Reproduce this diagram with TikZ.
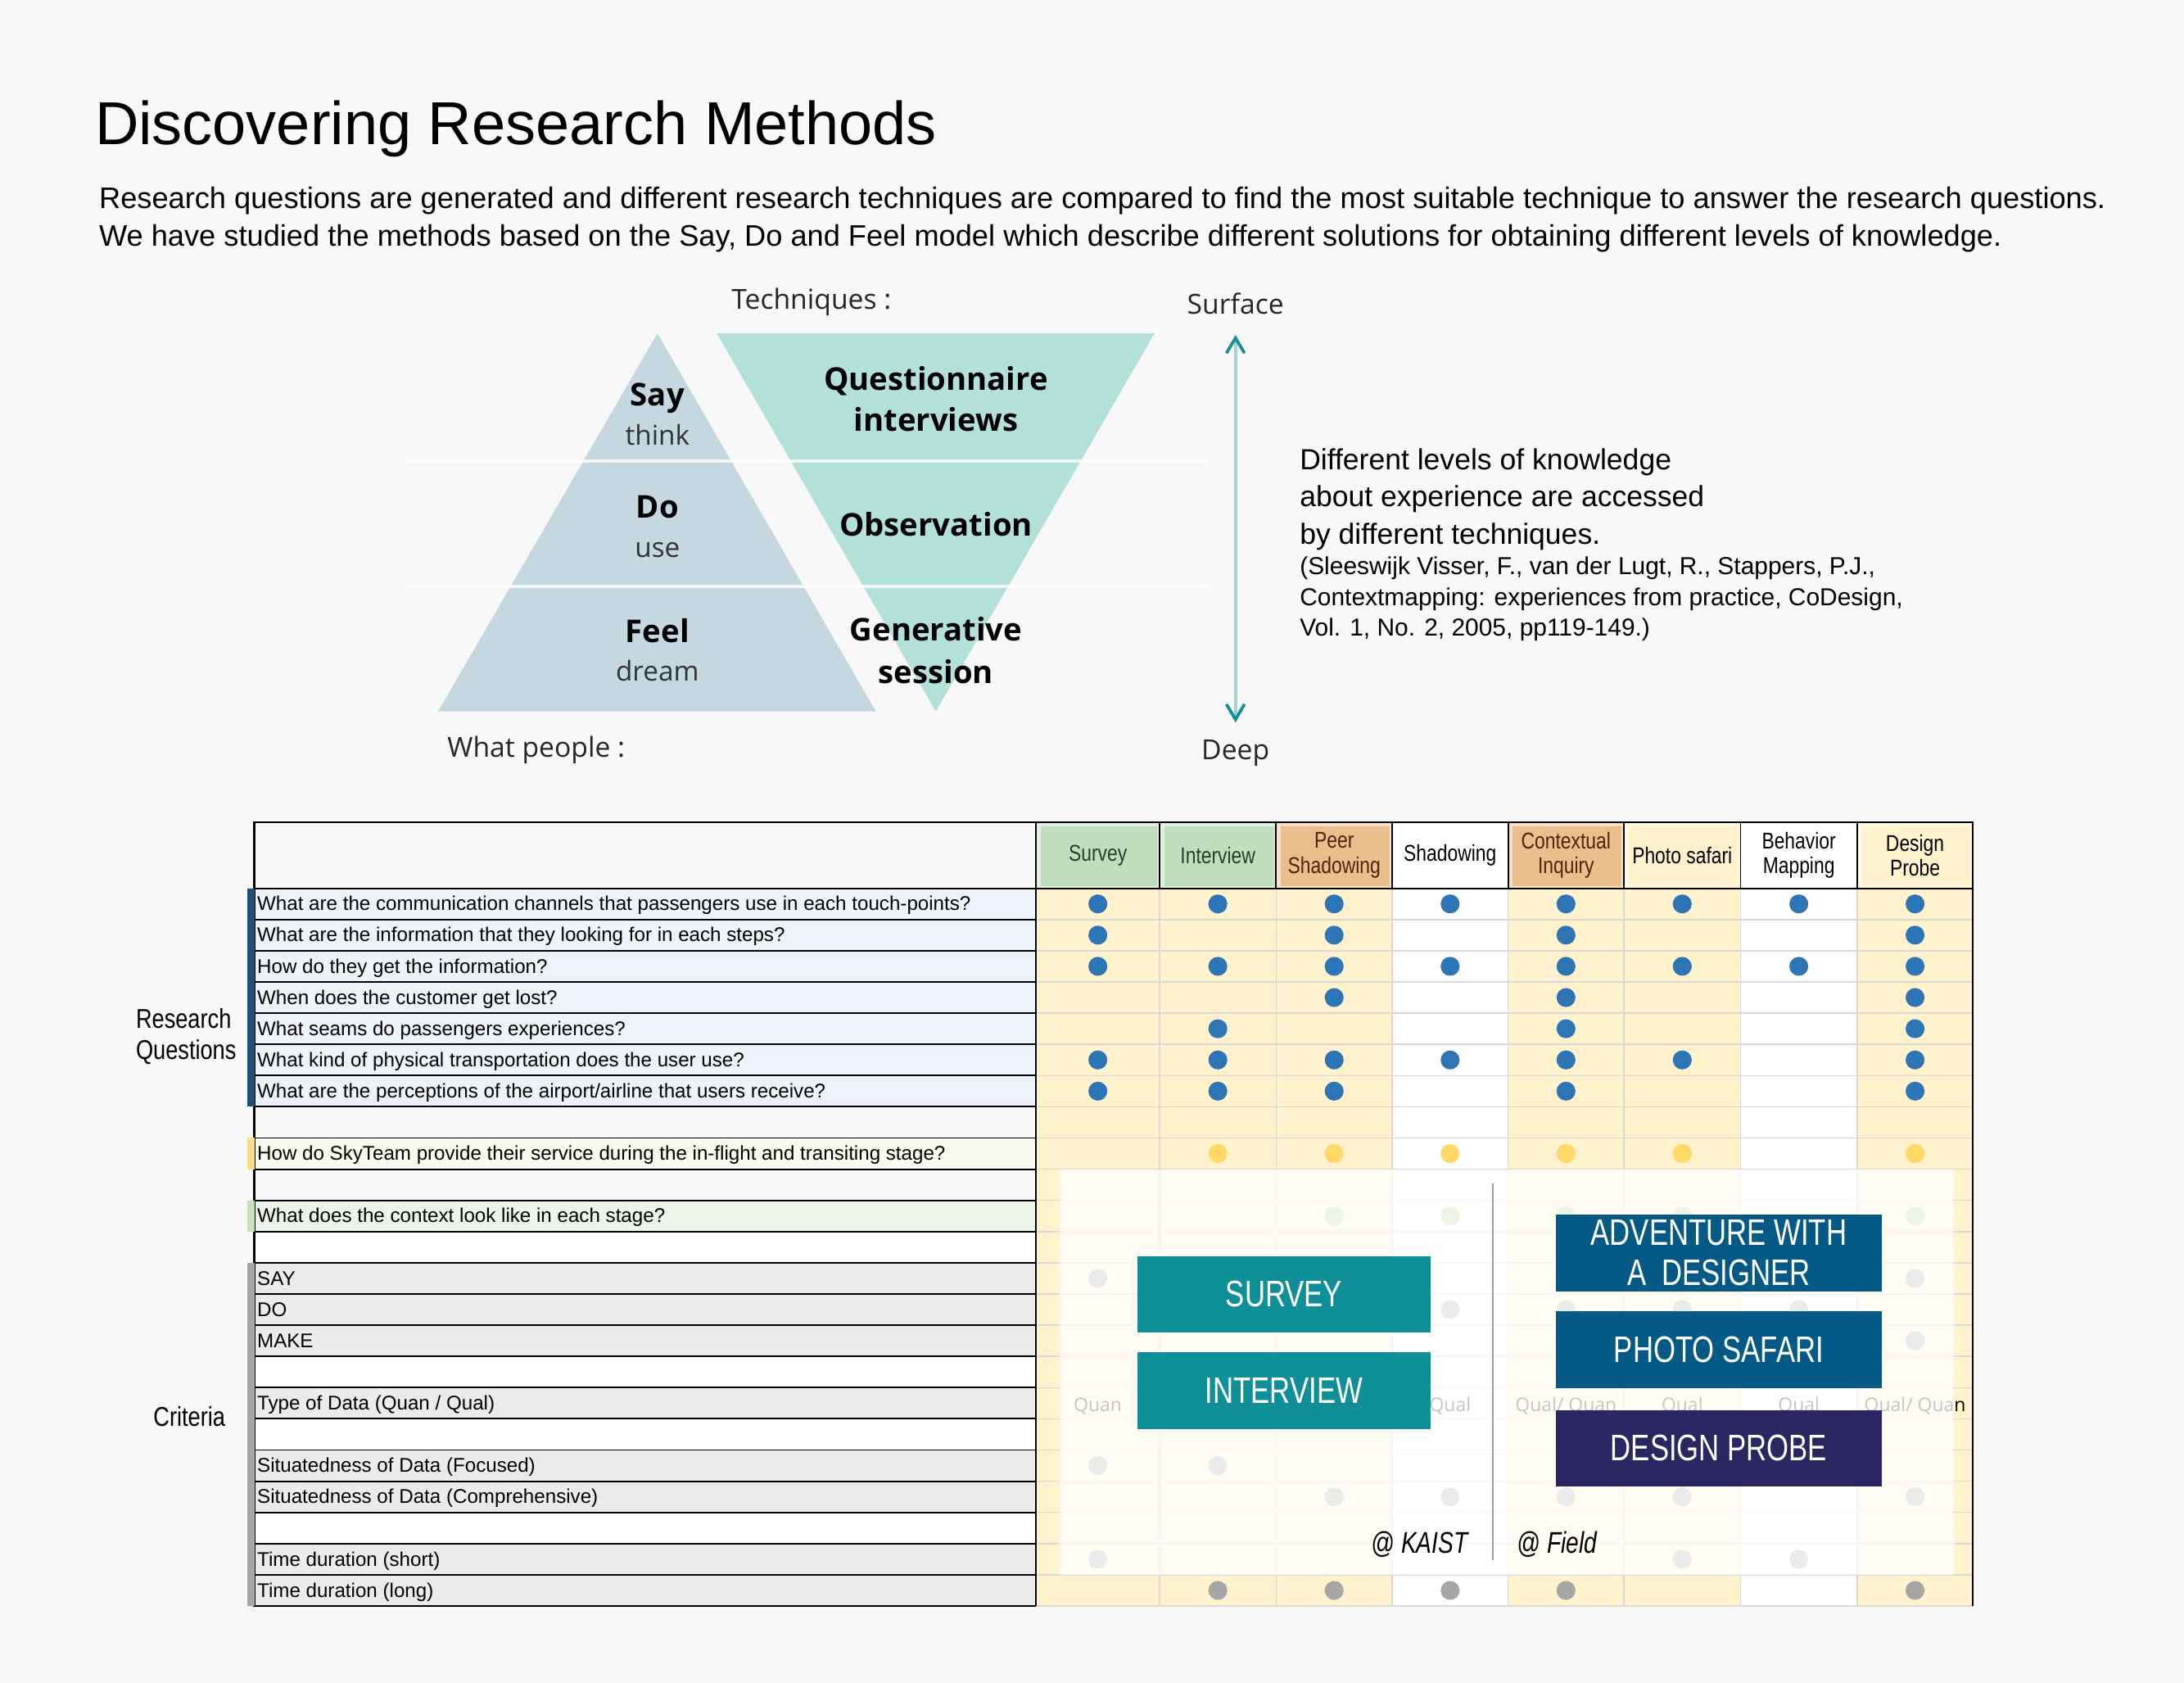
\documentclass[tikz,border=0pt]{standalone}
\usepackage{fontspec}
\setmainfont{Liberation Sans}
\newfontfamily\segoefont{Open Sans}
\newfontfamily\narrowfont[FakeStretch=0.82]{Liberation Sans}
\newfontfamily\boxfont[FakeStretch=0.77]{Liberation Sans}
\usetikzlibrary{positioning,arrows.meta}

\definecolor{paper}{RGB}{248,248,248}
\definecolor{saycol}{RGB}{197,216,224}
\definecolor{techcol}{RGB}{179,224,215}
\definecolor{arrowline}{RGB}{160,212,212}
\definecolor{arrowhead}{RGB}{22,145,145}
\definecolor{cream}{RGB}{255,242,204}
\definecolor{hdrgreen}{RGB}{190,222,188}
\definecolor{hdrorange}{RGB}{236,190,140}
\definecolor{greentext}{RGB}{36,66,40}
\definecolor{browntext}{RGB}{78,36,10}
\definecolor{qblue}{RGB}{239,243,249}
\definecolor{qgray}{RGB}{235,235,235}
\definecolor{qcream}{RGB}{250,249,240}
\definecolor{qgreen}{RGB}{237,243,232}
\definecolor{barblue}{RGB}{31,78,121}
\definecolor{baryellow}{RGB}{255,222,130}
\definecolor{bargreen}{RGB}{197,224,180}
\definecolor{bargray}{RGB}{166,166,166}
\definecolor{dotblue}{RGB}{46,117,182}
\definecolor{dotyellow}{RGB}{255,217,102}
\definecolor{dotgreen}{RGB}{169,209,142}
\definecolor{dotgray}{RGB}{166,166,166}
\definecolor{gridgray}{RGB}{217,217,217}
\definecolor{sepgray}{RGB}{160,160,160}
\definecolor{kaistteal}{RGB}{15,144,153}
\definecolor{fieldblue}{RGB}{4,90,133}
\definecolor{probenavy}{RGB}{43,38,97}

% column borders of the method table
\def\colb{{743.9,832.5,916.2,999.5,1082.7,1165.9,1249.6,1333.3,1416.5}}
\newcommand\colmid[1]{%
  \pgfmathsetmacro\colxa{\colb[#1-1]}%
  \pgfmathsetmacro\colxb{\colb[#1]}%
  \pgfmathsetmacro\dotx{(\colxa+\colxb)/2}}
\newcommand\dotrow[3]{\foreach \k in {#3}{%
  \colmid{\k}%
  \fill[#1] (\dotx,{637.7+(#2-0.5)*22.4}) circle (6.8);}}

\begin{document}
\begin{tikzpicture}[x=1pt,y=-1pt,
every node/.style={inner sep=0pt},
titletext/.style={anchor=base west,font=\fontsize{43.5}{50}\selectfont},
introtext/.style={anchor=base west,font=\fontsize{21.3}{24}\selectfont},
pyrbold/.style={anchor=base,font=\segoefont\bfseries\fontsize{22.5}{26}\selectfont},
pyrlight/.style={anchor=base,font=\segoefont\fontsize{19.6}{24}\selectfont,text=black!80},
sidetext/.style={anchor=base,font=\segoefont\fontsize{19.8}{24}\selectfont,text=black!85},
notetext/.style={anchor=base west,font=\fontsize{20.9}{24}\selectfont},
reftext/.style={anchor=base west,font=\fontsize{17.6}{21}\selectfont},
qtext/.style={anchor=base west,font=\fontsize{14.2}{16}\selectfont},
htext/.style={align=center,font=\narrowfont\fontsize{16.4}{18}\selectfont},
grouptext/.style={anchor=base west,font=\narrowfont\fontsize{19.5}{22.3}\selectfont},
typetext/.style={anchor=base,font=\segoefont\fontsize{13.5}{16}\selectfont},
methodbox/.style={minimum width=233.5pt,minimum height=55pt,text=white,align=center,
  font=\boxfont\fontsize{26.5}{29}\selectfont},
placetext/.style={font=\boxfont\itshape\fontsize{21.5}{24}\selectfont}]

\fill[paper] (0,0) rectangle (1568,1208);

\node[titletext] (title) at (68,103.5) {Discovering Research Methods};
\node[introtext] (intro1) at (71,149.4) {Research questions are generated and different research techniques are compared to find the most suitable technique to answer the research questions.};
\node[introtext] (intro2) at (71,176.4) {We have studied the methods based on the Say, Do and Feel model which describe different solutions for obtaining different levels of knowledge.};

% say / do / feel pyramid
\fill[saycol] (472,239.3) -- (628.8,510.7) -- (314.5,510.7) -- cycle;
\fill[techcol] (514.6,239.3) -- (828.9,239.3) -- (671.8,510.7) -- cycle;
\draw[white,opacity=0.8,line width=2.3] (292,331.2) -- (868,331.2) (292,420.7) -- (868,420.7);

\node[pyrbold] (say) at (472,291.2) {Say};
\node[pyrlight] (think) at (472,319.5) {think};
\node[pyrbold] (do) at (472,371.9) {Do};
\node[pyrlight] (use) at (472,399.8) {use};
\node[pyrbold] (feel) at (472,461) {Feel};
\node[pyrlight] (dream) at (472,488.8) {dream};
\node[pyrbold] (quest) at (672,280.4) {Questionnaire};
\node[pyrbold] (interv) at (672,309.8) {interviews};
\node[pyrbold] (observ) at (672,384.6) {Observation};
\node[pyrbold] (gener) at (672,460.2) {Generative};
\node[pyrbold] (session) at (672,490.4) {session};

\node[sidetext,anchor=base west] (techniques) at (525,221.9) {Techniques :};
\node[sidetext,anchor=base west] (people) at (321,543.8) {What people :};
\node[sidetext] (surface) at (887,225.4) {Surface};
\node[sidetext] (deep) at (887,545) {Deep};
\draw[arrowline,line width=2.4,
  {Straight Barb[color=arrowhead,length=11pt,width=13pt,line width=2.2pt]}-{Straight Barb[color=arrowhead,length=11pt,width=13pt,line width=2.2pt]},
  shorten <=14.6pt,shorten >=12pt] (surface) -- (deep);

\node[notetext] (note1) at (933,337) {Different levels of knowledge};
\node[notetext] (note2) at (933,363.7) {about experience are accessed};
\node[notetext] (note3) at (933,390.4) {by different techniques.};
\node[reftext] (ref1) at (933,412.5) {(Sleeswijk Visser, F., van der Lugt, R., Stappers, P.J.,};
\node[reftext] (ref2) at (933,434.6) {Contextmapping: experiences from practice, CoDesign,};
\node[reftext] (ref3) at (933,456.7) {Vol. 1, No. 2, 2005, pp119-149.)};

% method table
\foreach \c [count=\r] in {qblue,qblue,qblue,qblue,qblue,qblue,qblue,paper,qcream,paper,qgreen,white,qgray,qgray,qgray,white,qgray,white,qgray,qgray,white,qgray,qgray}
  \fill[\c] (182.6,{637.7+(\r-1)*22.4}) rectangle (743.9,{637.7+\r*22.4});
\foreach \c [count=\k] in {cream,cream,cream,white,cream,cream,white,cream}{
  \colmid{\k}
  \fill[\c] (\colxa,637.7) rectangle (\colxb,1152.9);
}
\foreach \f/\tc/\t [count=\k] in {hdrgreen/greentext/Survey,hdrgreen/greentext/Interview,
  hdrorange/browntext/{Peer\\Shadowing},white/black/Shadowing,hdrorange/browntext/{Contextual\\Inquiry},
  cream/black/Photo safari,white/black/{Behavior\\Mapping},cream/black/{Design\\Probe}}{
  \colmid{\k}
  \fill[\f!45!white] (\colxa,590.3) rectangle (\colxb,637.7);
  \fill[\f] ({\colxa+3.4},593.3) rectangle ({\colxb-1.6},636);
  \node[htext,text=\tc] (h\k) at (\dotx,614) {\t};
}

\foreach \r in {1,...,22}{
  \draw[black,line width=1.1] (182.6,{637.7+\r*22.4}) -- (743.9,{637.7+\r*22.4});
  \draw[gridgray,line width=0.9] (743.9,{637.7+\r*22.4}) -- (1416.5,{637.7+\r*22.4});
}
\foreach \k in {1,...,7}{
  \colmid{\k}
  \draw[gridgray,line width=0.9] (\colxb,637.7) -- (\colxb,1152.9);
  \draw[black,line width=1.1] (\colxb,590.3) -- (\colxb,637.7);
}
\draw[gridgray,line width=0.9] (743.9,1152.9) -- (1416.5,1152.9);
\draw[black,line width=1.3] (743.9,1152.9) -- (182.6,1152.9) -- (182.6,590.3) -- (1416.5,590.3) -- (1416.5,1152.9);
\draw[black,line width=1.3] (743.9,590.3) -- (743.9,1152.9) (182.6,637.7) -- (1416.5,637.7);

\fill[barblue] (177.6,637.7) rectangle (182.6,794.5);
\fill[baryellow] (177.6,816.9) rectangle (182.6,839.3);
\fill[bargreen] (177.6,861.7) rectangle (182.6,884.1);
\fill[bargray] (177.6,906.5) rectangle (182.6,1152.9);

\node[grouptext] (rq1) at (97.4,737.9) {Research};
\node[grouptext] (rq2) at (97.4,760.2) {Questions};
\node[grouptext] (crit) at (110,1024) {Criteria};

\foreach \r/\t in {1/{What are the communication channels that passengers use in each touch-points?},
  2/{What are the information that they looking for in each steps?},
  3/{How do they get the information?},
  4/{When does the customer get lost?},
  5/{What seams do passengers experiences?},
  6/{What kind of physical transportation does the user use?},
  7/{What are the perceptions of the airport/airline that users receive?},
  9/{How do SkyTeam provide their service during the in-flight and transiting stage?},
  11/{What does the context look like in each stage?},
  13/{SAY},14/{DO},15/{MAKE},
  17/{Type of Data (Quan / Qual)},
  19/{Situatedness of Data (Focused)},
  20/{Situatedness of Data (Comprehensive)},
  22/{Time duration (short)},
  23/{Time duration (long)}}
  \node[qtext] (q\r) at (184.5,{637.7+(\r-0.5)*22.4+4.8}) {\t};

\dotrow{dotblue}{1}{1,2,3,4,5,6,7,8}
\dotrow{dotblue}{2}{1,3,5,8}
\dotrow{dotblue}{3}{1,2,3,4,5,6,7,8}
\dotrow{dotblue}{4}{3,5,8}
\dotrow{dotblue}{5}{2,5,8}
\dotrow{dotblue}{6}{1,2,3,4,5,6,8}
\dotrow{dotblue}{7}{1,2,3,5,8}
\dotrow{dotyellow}{9}{2,3,4,5,6,8}
\dotrow{dotgreen}{11}{3,4,5,6,8}
\dotrow{dotgray}{13}{1,8}
\dotrow{dotgray}{14}{4,5,6,7}
\dotrow{dotgray}{15}{8}
\dotrow{dotgray}{19}{1,2}
\dotrow{dotgray}{20}{3,4,5,6,8}
\dotrow{dotgray}{22}{1,6,7}
\dotrow{dotgray}{23}{2,3,4,5,8}

\foreach \k/\t in {1/Quan,4/Qual,5/{Qual/ Quan},6/Qual,7/Qual,8/{Qual/ Quan}}{
  \colmid{\k}
  \node[typetext] (type\k) at (\dotx,1013) {\t};
}

% KAIST / field overlay
\fill[white,opacity=0.775] (761,839.3) rectangle (1403,1130.5);
\draw[sepgray,line width=1.6] (1071.7,849.5) -- (1071.7,1120);

\node[methodbox,fill=kaistteal,minimum width=210.4pt] (survey) at (921.8,929.1) {SURVEY};
\node[methodbox,fill=kaistteal,minimum width=210.4pt,below=13.9pt of survey] (interview) {INTERVIEW};
\node[methodbox,fill=fieldblue] (adventure) at (1234,899.4) {ADVENTURE WITH\\A\ \ DESIGNER};
\node[methodbox,fill=fieldblue,below=14.1pt of adventure] (safari) {PHOTO SAFARI};
\node[methodbox,fill=probenavy,below=15.3pt of safari] (probe) {DESIGN PROBE};

\node[placetext,anchor=base east] (kaist) at (1054,1115.2) {@ KAIST};
\node[placetext,anchor=base west] (field) at (1089,1115.2) {@ Field};
\end{tikzpicture}
\end{document}
